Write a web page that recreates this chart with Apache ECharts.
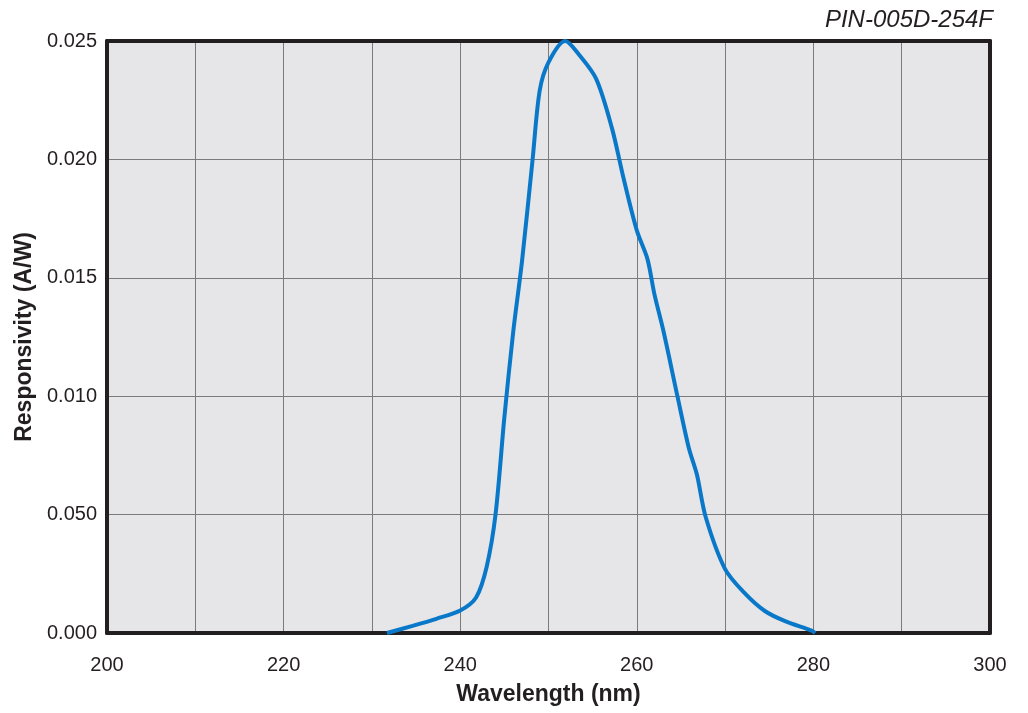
<!DOCTYPE html>
<html>
<head>
<meta charset="utf-8">
<script src="https://cdn.jsdelivr.net/npm/echarts@6/dist/echarts.min.js"></script>
<style>
  html, body { margin: 0; padding: 0; background: #fff; }
  #main { width: 1028px; height: 713px; }
</style>
</head>
<body>
<div id="main"></div>
<script>
// wavelength (nm) and responsivity (A/W)
var wavelength = [231.7, 234.6, 237.3, 240, 241.8, 243, 244, 245, 246, 247, 248.2, 249, 250, 251.9,
    253.4, 255.4, 257.2, 258.5, 260, 261.2, 262, 263.05, 264.6, 265.9, 266.8, 267.8,
    270, 272.3, 274.5, 276.8, 279.8, 280.2];
var responsivity = [0, 0.0003, 0.0006, 0.00095, 0.0015, 0.0028, 0.005, 0.0091, 0.0127, 0.0157, 0.020, 0.0229, 0.0241, 0.025,
    0.02445, 0.0234, 0.0213, 0.0192, 0.0170, 0.0158, 0.0143, 0.0127, 0.010, 0.0078, 0.0067, 0.0049,
    0.0027, 0.00165, 0.00093, 0.0005, 0.0001, 0];
// y tick labels exactly as printed on the original
var yTickLabels = ['0.000', '0.050', '0.010', '0.015', '0.020', '0.025'];

var points = [];
for (var i = 0; i < wavelength.length; i++) {
    points.push([wavelength[i], responsivity[i]]);
}

var font = 'Liberation Sans, Arial, Helvetica, sans-serif';
var ink = '#231f20';
var frame = { show: true, onZero: false, lineStyle: { color: ink, width: 4 } };

var myChart = echarts.init(document.getElementById('main'));
myChart.setOption({
    animation: false,
    title: {
        text: 'PIN-005D-254F',
        right: 30, top: 3,
        textStyle: { fontFamily: font, fontStyle: 'italic', fontWeight: 'normal', fontSize: 24, color: ink }
    },
    grid: {
        left: 107, right: 38, top: 41, bottom: 80,
        show: true,
        backgroundColor: '#e6e6e8',
        borderWidth: 0
    },
    xAxis: [{
        type: 'value',
        min: 200, max: 300, interval: 10,
        name: 'Wavelength (nm)',
        nameLocation: 'middle',
        nameGap: 50,
        nameTextStyle: { fontFamily: font, fontWeight: 'bold', fontSize: 23, color: ink },
        axisLine: frame,
        axisTick: { show: false },
        splitLine: { show: true, lineStyle: { color: '#7a7a7a', width: 1 } },
        axisLabel: {
            margin: 22,
            fontFamily: font, fontSize: 20, color: ink,
            formatter: function (v) { return v % 20 === 0 ? String(v) : ''; }
        }
    }, {
        type: 'value', position: 'top',
        min: 200, max: 300, interval: 10,
        axisLine: frame,
        axisTick: { show: false },
        axisLabel: { show: false },
        splitLine: { show: false }
    }],
    yAxis: [{
        type: 'value',
        min: 0, max: 0.025, interval: 0.005,
        name: 'Responsivity (A/W)',
        nameLocation: 'middle',
        nameGap: 70,
        nameTextStyle: { fontFamily: font, fontWeight: 'bold', fontSize: 23, color: ink },
        axisLine: frame,
        axisTick: { show: false },
        splitLine: { show: true, lineStyle: { color: '#7a7a7a', width: 1 } },
        axisLabel: {
            margin: 10,
            fontFamily: font, fontSize: 20, color: ink,
            formatter: function (v) { return yTickLabels[Math.round(v / 0.005)]; }
        }
    }, {
        type: 'value', position: 'right',
        min: 0, max: 0.025, interval: 0.005,
        axisLine: frame,
        axisTick: { show: false },
        axisLabel: { show: false },
        splitLine: { show: false }
    }],
    series: [{
        type: 'line',
        data: points,
        smooth: 0.3,
        showSymbol: false,
        z: 1,
        lineStyle: { color: '#0a78c8', width: 4 }
    }]
});
</script>
</body>
</html>
